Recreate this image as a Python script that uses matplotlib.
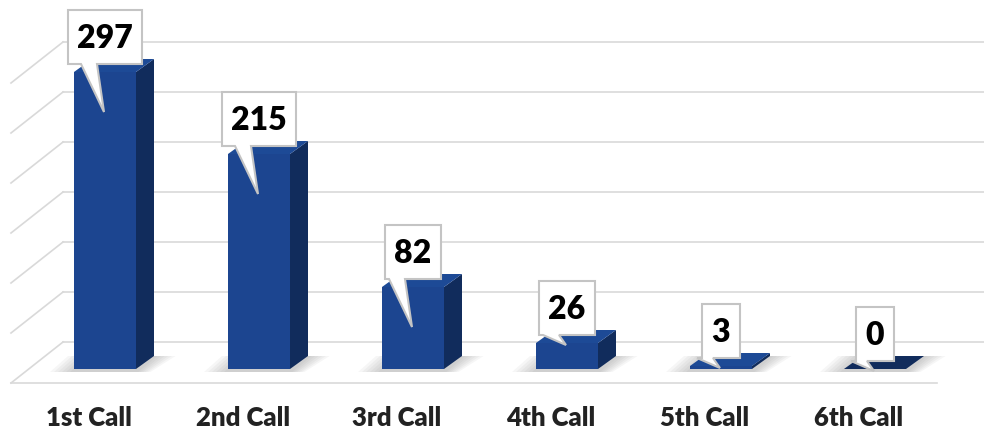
import matplotlib.pyplot as plt
from matplotlib.patches import Polygon

# data
categories = ['1st Call', '2nd Call', '3rd Call', '4th Call', '5th Call', '6th Call']
calls = [297, 215, 82, 26, 3, 0]
grid_values = [0, 50, 100, 150, 200, 250, 300]

plt.rcParams['font.family'] = ['Lato', 'DejaVu Sans']

FRONT = '#1c4590'
SIDE = '#112c5c'
TOP = '#1d4a96'
GRID = '#d9d9d9'

W, H = 984, 433
fig = plt.figure(figsize=(W / 100, H / 100), dpi=100)
ax = fig.add_axes([0, 0, 1, 1])
ax.axis('off')

# one y unit = one pixel, bars 154 px apart
STEP = 154.0
X0 = 105.0
BASE = 64.0
ax.set_xlim(-X0 / STEP, (W - X0) / STEP)
ax.set_ylim(-BASE, H - BASE)


def px(p):
    # horizontal pixels -> data units
    return p / STEP


def xpix(p):
    # absolute pixel column -> data x
    return (p - X0) / STEP


# back wall, side wall and floor
back_y = 27
for v in grid_values:
    ax.plot([xpix(63), xpix(W + 5)], [v + back_y, v + back_y], color=GRID, lw=1.2, zorder=1)
    ax.plot([xpix(63), xpix(11)], [v + back_y, v - 14], color=GRID, lw=1.2, zorder=1)
ax.plot([xpix(11), xpix(937)], [-14, -14], color=GRID, lw=1.2, zorder=1)

x = list(range(len(categories)))
bw = px(62)
ddx, ddy = px(18), 13

# soft shadows on the floor
for i, v in zip(x, calls):
    xl, xr = i - bw / 2, i + bw / 2
    for k in range(6):
        e = 4 * (6 - k)
        ax.add_patch(Polygon([(xl - px(e), -3), (xr + px(e * 0.6), -3),
                              (xr + ddx + px(e * 0.9), ddy), (xl + ddx - px(e), ddy)],
                             closed=True, facecolor='#808080', edgecolor='none',
                             alpha=0.07, zorder=2))

ax.bar(x, calls, width=bw, color=FRONT, zorder=3)
for i, v in zip(x, calls):
    xl, xr = i - bw / 2, i + bw / 2
    ax.add_patch(Polygon([(xr, 0), (xr + ddx, ddy), (xr + ddx, v + ddy), (xr, v)],
                         closed=True, facecolor=SIDE, edgecolor='none', zorder=3))
    ax.add_patch(Polygon([(xl, v), (xr, v), (xr + ddx, v + ddy), (xl + ddx, v + ddy)],
                         closed=True, facecolor=TOP if v > 0 else SIDE,
                         edgecolor='none', zorder=3))

# callout labels
for i, v in zip(x, calls):
    txt = str(v)
    half = px((len(txt) * 18 + 20) / 2)
    b, t = v + 8, v + 62
    tip_y = v - 40 if v > 40 else v - 2
    ax.add_patch(Polygon([(i - half, b), (i - px(24), b), (i - px(1), tip_y), (i - px(8), b),
                          (i + half, b), (i + half, t), (i - half, t)],
                         closed=True, facecolor='white', edgecolor='#c4c4c4',
                         lw=1.5, zorder=6))
    ax.text(i, b + 27 - 11, txt, ha='center', va='baseline', fontsize=23,
            fontweight='heavy', color='black', zorder=7)

# category labels
for i, c in zip(x, categories):
    ax.text(i - px(16), -49, c, ha='center', va='center', fontsize=18.5,
            fontweight='heavy', color='#222222')

fig.savefig('out.png', dpi=100)
